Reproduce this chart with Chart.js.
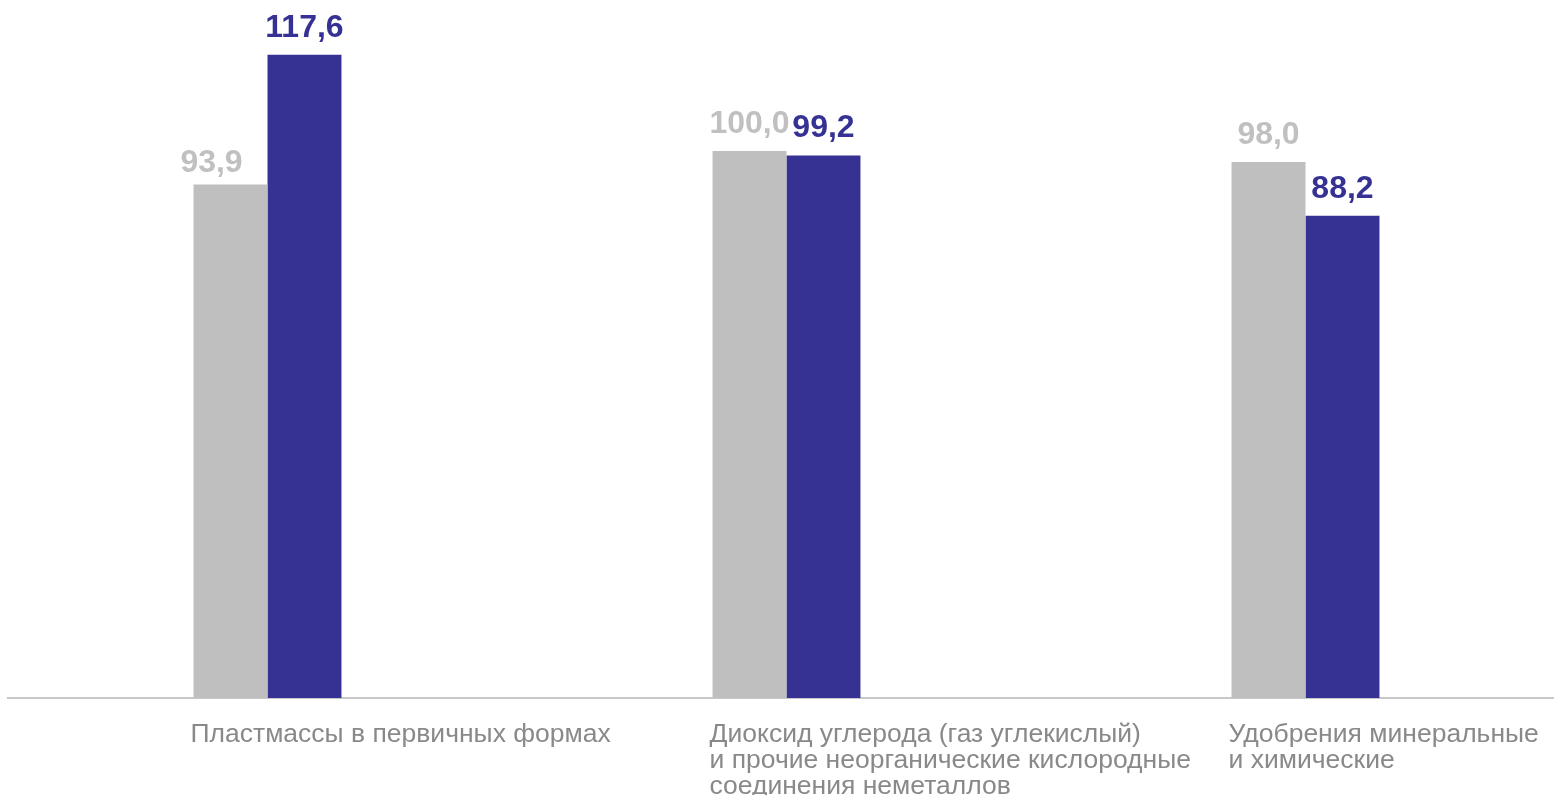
<!DOCTYPE html>
<html>
<head>
<meta charset="utf-8">
<script src="https://cdn.jsdelivr.net/npm/chart.js@4.4.1/dist/chart.umd.min.js"></script>
<style>
  html, body { margin: 0; padding: 0; background: #fff; overflow: hidden; }
  #wrap { width: 1565px; height: 795px; position: relative; }
</style>
</head>
<body>
<div id="wrap"><canvas id="chart"></canvas></div>
<script>
const categories = [
  ["Пластмассы в первичных формах"],
  ["Диоксид углерода (газ углекислый)", "и прочие неорганические кислородные", "соединения неметаллов"],
  ["Удобрения минеральные", "и химические"]
];
const prevValues = [93.9, 100.0, 98.0];
const currValues = [117.6, 99.2, 88.2];

const grayColor = '#bfbfbf';
const blueColor = '#363294';

// value labels above bars (first gray label sits a bit left in the original)
const valueLabels = {
  id: 'valueLabels',
  afterDatasetsDraw(chart) {
    const ctx = chart.ctx;
    ctx.save();
    ctx.font = 'bold 32px "Liberation Sans", Arial, sans-serif';
    ctx.textAlign = 'center';
    ctx.textBaseline = 'alphabetic';
    chart.data.datasets.forEach((ds, di) => {
      const meta = chart.getDatasetMeta(di);
      ctx.fillStyle = ds.labelColor;
      meta.data.forEach((bar, i) => {
        let dx = 0, dy = 0;
        if (di === 0 && i === 0) { dx = -19; dy = 6; }
        ctx.fillText(ds.data[i].toFixed(1).replace('.', ','), bar.x + dx, bar.y - 18 + dy);
      });
    });
    ctx.restore();
  }
};

new Chart(document.getElementById('chart'), {
  type: 'bar',
  data: {
    labels: categories,
    datasets: [
      { data: prevValues, backgroundColor: grayColor, labelColor: '#c0c0c0' },
      { data: currValues, backgroundColor: blueColor, labelColor: blueColor }
    ]
  },
  options: {
    responsive: true,
    maintainAspectRatio: false,
    animation: false,
    layout: { padding: { top: 10, left: 8, right: 0, bottom: 0 } },
    datasets: { bar: { categoryPercentage: 0.285, barPercentage: 1 } },
    plugins: { legend: { display: false }, tooltip: { enabled: false } },
    scales: {
      x: {
        grid: { display: false, drawTicks: false },
        border: { color: '#c8c8c8', width: 2 },
        ticks: {
          color: '#898989',
          font: { family: '"Liberation Sans", Arial, sans-serif', size: 26.5, lineHeight: '26px' },
          align: 'start',
          labelOffset: -77,
          padding: 24,
          maxRotation: 0,
          autoSkip: false
        },
        afterFit(scale) {
          scale.height = 97;
          scale.paddingLeft = 0;
          scale.paddingRight = 0;
        }
      },
      y: {
        display: false,
        min: 0,
        max: 125.8
      }
    }
  },
  plugins: [valueLabels]
});
</script>
</body>
</html>
